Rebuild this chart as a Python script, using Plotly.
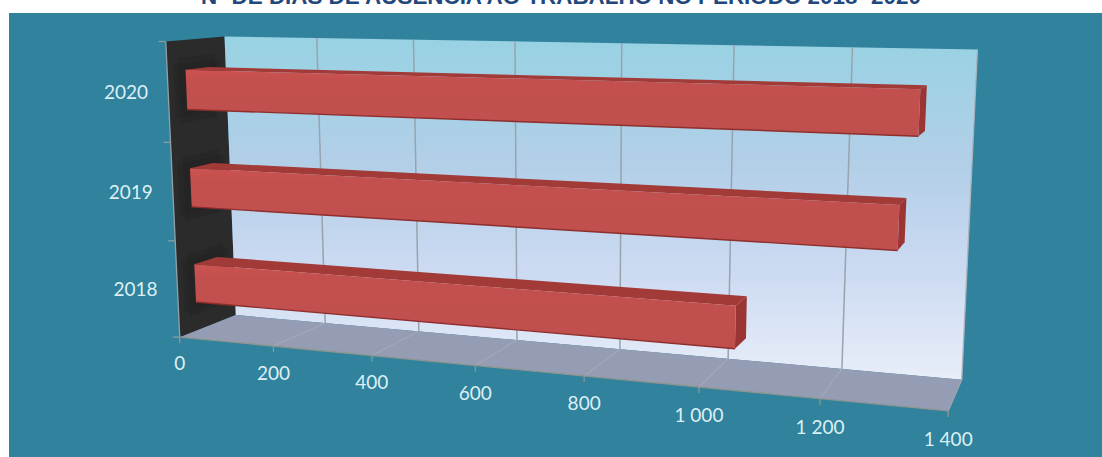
import numpy as np
import plotly.graph_objects as go

# Chart values
years = ["2018", "2019", "2020"]
days = [1045, 1305, 1330]
value_ticks = [0, 200, 400, 600, 800, 1000, 1200, 1400]
value_labels = ["0", "200", "400", "600", "800", "1 000", "1 200", "1 400"]
title = "Nº DE DIAS DE AUSÊNCIA AO TRABALHO NO PERÍODO 2018 -2020"

# Box extents in chart units
X_MAX = 1400
Y_MAX = 3
BAR_LOW, BAR_HIGH = 0.30, 0.70
DEPTH_FRONT, DEPTH_BACK = 0.30, 0.70

# Camera calibration: (value, category height, depth) -> page position
anchors = [
    ((0, 0, 0), (180, 336)), ((200, 0, 0), (273, 347)), ((400, 0, 0), (372, 356)),
    ((1000, 0, 0), (699, 387)), ((1200, 0, 0), (820, 399)), ((1400, 0, 0), (948, 411)),
    ((0, 3, 0), (166, 41)), ((0, 0, 1), (236, 315)), ((200, 0, 1), (325, 323)),
    ((1000, 0, 1), (728, 359)), ((1200, 0, 1), (842, 369)), ((1400, 0, 1), (962, 379)),
    ((0, 3, 1), (224, 37)), ((200, 3, 1), (317, 38)), ((1000, 3, 1), (734, 45)),
    ((1200, 3, 1), (853, 47)), ((1400, 3, 1), (977, 50)),
]


def solve_camera(pairs):
    rows, rhs = [], []
    for (x, y, d), (u, v) in pairs:
        p = [x / X_MAX, y / Y_MAX, d, 1]
        rows.append(p + [0, 0, 0, 0] + [-u * c for c in p[:3]])
        rhs.append(u)
        rows.append([0, 0, 0, 0] + p + [-v * c for c in p[:3]])
        rhs.append(v)
    sol = np.linalg.lstsq(np.array(rows, float), np.array(rhs, float), rcond=None)[0]
    return np.append(sol, 1).reshape(3, 4)


CAMERA = solve_camera(anchors)


def project(x, y, d):
    h = CAMERA @ np.array([x / X_MAX, y / Y_MAX, d, 1.0])
    return h[0] / h[2], h[1] / h[2]


def polygon(corners, color, gradient=None, line=None, width=0):
    pts = [project(*c) for c in corners] + [project(*corners[0])]
    kw = dict(fillcolor=color)
    if gradient:
        kw["fillgradient"] = dict(type="vertical", colorscale=gradient)
    return go.Scatter(
        x=[p[0] for p in pts], y=[p[1] for p in pts], mode="lines", fill="toself",
        line=dict(color=line or color, width=width), hoverinfo="skip", showlegend=False, **kw,
    )


def segment(a, b, color, width=1.4):
    pa, pb = project(*a), project(*b)
    return go.Scatter(
        x=[pa[0], pb[0]], y=[pa[1], pb[1]],
        mode="lines", line=dict(color=color, width=width), hoverinfo="skip", showlegend=False,
    )


fig = go.Figure()

# Walls and floor
fig.add_trace(polygon([(0, 0, 0), (0, Y_MAX, 0), (0, Y_MAX, 1), (0, 0, 1)], "#2b2b2b"))
fig.add_trace(polygon(
    [(0, 0, 1), (0, Y_MAX, 1), (X_MAX, Y_MAX, 1), (X_MAX, 0, 1)], "#b8cfe9",
    gradient=[[0, "#e8eef9"], [0.3, "#cddbf2"], [0.62, "#b3cfe8"], [1, "#97d2e3"]],
))
fig.add_trace(polygon([(0, 0, 0), (X_MAX, 0, 0), (X_MAX, 0, 1), (0, 0, 1)], "#959db4"))

# Soft shadow cast by each box on the side wall
for i in range(len(years)):
    for spread, depth in ((0.13, 0.12), (0.07, 0.2)):
        fig.add_trace(polygon(
            [(0, i + BAR_LOW - spread, DEPTH_FRONT - depth), (0, i + BAR_HIGH + spread, DEPTH_FRONT - depth),
             (0, i + BAR_HIGH + spread, DEPTH_BACK + depth), (0, i + BAR_LOW - spread, DEPTH_BACK + depth)],
            "rgba(0,0,0,0.07)",
        ))

# Gridlines on back wall and floor, with ticks under the front edge
GRID = "#98a3ad"
for t in value_ticks[1:-1]:
    fig.add_trace(segment((t, 0, 1), (t, Y_MAX, 1), GRID, 1.5))
    fig.add_trace(segment((t, 0, 0), (t, 0, 1), "#a3a8b4", 1.2))
for t in value_ticks:
    p = project(t, 0, 0)
    fig.add_trace(go.Scatter(x=[p[0], p[0]], y=[p[1], p[1] + 6], mode="lines",
                             line=dict(color="#8f9a92", width=1.2), hoverinfo="skip", showlegend=False))
fig.add_trace(segment((0, 0, 0), (X_MAX, 0, 0), "#8d9590", 1.3))
fig.add_trace(segment((0, 0, 0), (0, Y_MAX, 0), "#93a0a6", 1.3))
fig.add_trace(segment((X_MAX, 0, 1), (X_MAX, Y_MAX, 1), "#a9b4bc", 1.3))
fig.add_trace(segment((X_MAX, 0, 0), (X_MAX, 0, 1), "#a0a6b4", 1.2))
for c in range(Y_MAX + 1):
    p = project(0, c, 0)
    fig.add_trace(go.Scatter(x=[p[0] - 7, p[0]], y=[p[1], p[1]], mode="lines",
                             line=dict(color="#8f9fa6", width=1.2), hoverinfo="skip", showlegend=False))

# One box per year
for i, v in enumerate(days):
    lo, hi = i + BAR_LOW, i + BAR_HIGH
    df, db = DEPTH_FRONT, DEPTH_BACK
    fig.add_trace(polygon([(0, hi, df), (v, hi, df), (v, hi, db), (0, hi, db)], "#a23b38"))
    fig.add_trace(polygon([(v, lo, df), (v, hi, df), (v, hi, db), (v, lo, db)], "#9a3533"))
    fig.add_trace(polygon(
        [(0, lo, df), (v, lo, df), (v, hi, df), (0, hi, df)], "#c2504e",
        gradient=[[0, "#bf4f4d"], [0.85, "#c3504e"], [1, "#cc5351"]],
    ))
    fig.add_trace(segment((0, lo, df), (v, lo, df), "#8e2f2e", 1.4))

# Tick labels
LABEL = "#dcf0f5"
tick_pts = [project(t, 0, 0) for t in value_ticks]
fig.add_trace(go.Scatter(
    x=[p[0] for p in tick_pts], y=[p[1] + 28.5 + 2 * t / X_MAX for p, t in zip(tick_pts, value_ticks)],
    mode="text", text=value_labels,
    textposition="middle center", textfont=dict(family="Lato", size=19, color=LABEL),
    hoverinfo="skip", showlegend=False,
))
year_pts = [project(0, i + 0.5, 0) for i in range(len(years))]
fig.add_trace(go.Scatter(
    x=[p[0] - 20 for p in year_pts], y=[p[1] + 2 for p in year_pts], mode="text", text=years,
    textposition="middle left", textfont=dict(family="Lato", size=19, color=LABEL),
    hoverinfo="skip", showlegend=False,
))

fig.update_layout(
    width=1102, height=457, margin=dict(l=0, r=0, t=0, b=0), autosize=False,
    paper_bgcolor="white", plot_bgcolor="white", showlegend=False,
    xaxis=dict(range=[0, 1102], visible=False, fixedrange=True),
    yaxis=dict(range=[457, 0], visible=False, fixedrange=True),
    shapes=[dict(type="rect", xref="x", yref="y", x0=9, x1=1102, y0=13, y1=457,
                 fillcolor="#31829c", line_width=0, layer="below")],
    annotations=[dict(text=f"<b>{title}</b>", xref="paper", yref="paper", x=561 / 1102, y=1,
                      xanchor="center", yanchor="middle", yshift=4, showarrow=False,
                      font=dict(family="Liberation Sans", size=22.4, color="#1f497d"))],
)
fig.write_html("out.html", config={"displayModeBar": False})
